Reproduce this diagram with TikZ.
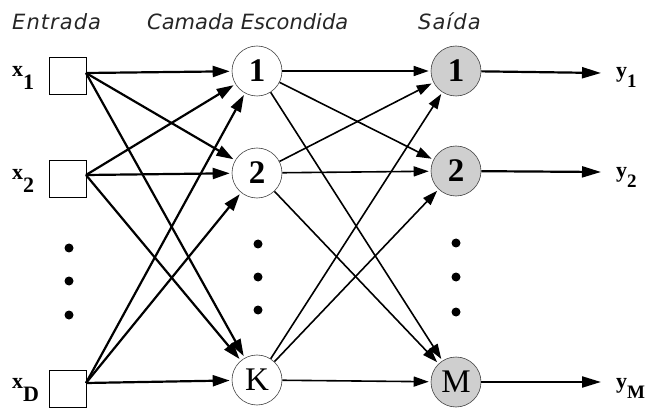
\documentclass[tikz,border=0pt]{standalone}
\usepackage{fontspec}
\setmainfont{Liberation Serif}
\newfontfamily\titlefont{DejaVu Sans}
\newfontfamily\titlewide[LetterSpace=5]{DejaVu Sans}
\usetikzlibrary{arrows.meta}
\tikzset{
  inbox/.style={draw, line width=0.8pt, minimum size=37pt, inner sep=0pt},
  hid/.style={circle, draw=black!75, line width=0.6pt, minimum size=50pt, inner sep=0pt, font=\fontsize{33}{33}\selectfont},
  outn/.style={hid, fill=gray!38},
  conn/.style={line width=2.2pt, -{Triangle[length=17pt,width=11pt]}, shorten >=2pt},
  conn2/.style={line width=1.6pt, -{Triangle[length=15pt,width=10pt]}, shorten >=2pt},
  conn3/.style={line width=2.2pt, -{Triangle[length=19pt,width=11pt]}},
  ttl/.style={anchor=base west, inner sep=0pt, text=black!85, font=\fontsize{21}{21}\selectfont},
  lbl/.style={anchor=base west, inner sep=0pt, font=\bfseries\fontsize{22}{22}\selectfont},
  dotn/.style={circle, fill=black, minimum size=9pt, inner sep=0pt}
}
\begin{document}
\begin{tikzpicture}[x=1pt, y=-1pt]
\useasboundingbox (0,0) rectangle (654,409);
% titles
\node[ttl] (t1) at (12,30) {\titlewide\itshape Entrada};
\node[ttl] (t2) at (147,30) {\titlefont\itshape Camada Escondida};
\node[ttl] (t3) at (418,30) {\titlewide\itshape Saída};
% input boxes
\node[inbox] (x1) at (68,76) {};
\node[inbox] (x2) at (68,179) {};
\node[inbox] (xD) at (68,389) {};
\coordinate (ox1) at (86,73);
\coordinate (ox2) at (86,175);
\coordinate (oxD) at (86,383);
% labels
\node[lbl] (lx1) at (12,77) {x\raisebox{-13pt}{1}};
\node[lbl] (lx2) at (12,180) {x\raisebox{-13pt}{2}};
\node[lbl] (lxD) at (12,388) {x\raisebox{-13pt}{D}};
% hidden
\node[hid] (h1) at (257,71) {\textbf{1}};
\node[hid] (h2) at (257,173) {\textbf{2}};
\node[hid] (hK) at (257,380) {K};
% output
\node[outn] (o1) at (456,71) {\textbf{1}};
\node[outn] (o2) at (456,171) {\textbf{2}};
\node[outn] (oM) at (456,382) {M};
% output ends
\coordinate (e1) at (601,73);
\coordinate (e2) at (601,172);
\coordinate (eM) at (601,382);
\node[lbl] (ly1) at (616,78) {y\raisebox{-10pt}{\fontsize{19}{19}\selectfont 1}};
\node[lbl] (ly2) at (616,178) {y\raisebox{-10pt}{\fontsize{19}{19}\selectfont 2}};
\node[lbl] (lyM) at (616,388) {y\raisebox{-10pt}{\fontsize{19}{19}\selectfont M}};
% dots
\node[dotn] (d1) at (69,248) {};
\node[dotn] (d2) at (69,281) {};
\node[dotn] (d3) at (69,315) {};
\node[dotn] (d4) at (258,244) {};
\node[dotn] (d5) at (258,277) {};
\node[dotn] (d6) at (258,310) {};
\node[dotn] (d7) at (456,243) {};
\node[dotn] (d8) at (456,277) {};
\node[dotn] (d9) at (456,312) {};
% input -> hidden
\foreach \s in {ox1,ox2,oxD}{
  \foreach \t in {h1,h2,hK}{
    \draw[conn] (\s) -- (\t);
  }
}
% hidden -> output
\foreach \s in {h1,h2,hK}{
  \foreach \t in {o1,o2,oM}{
    \draw[conn2] (\s) -- (\t);
  }
}
\draw[conn3] (o1) -- (e1);
\draw[conn3] (o2) -- (e2);
\draw[conn3] (oM) -- (eM);
\end{tikzpicture}
\end{document}
